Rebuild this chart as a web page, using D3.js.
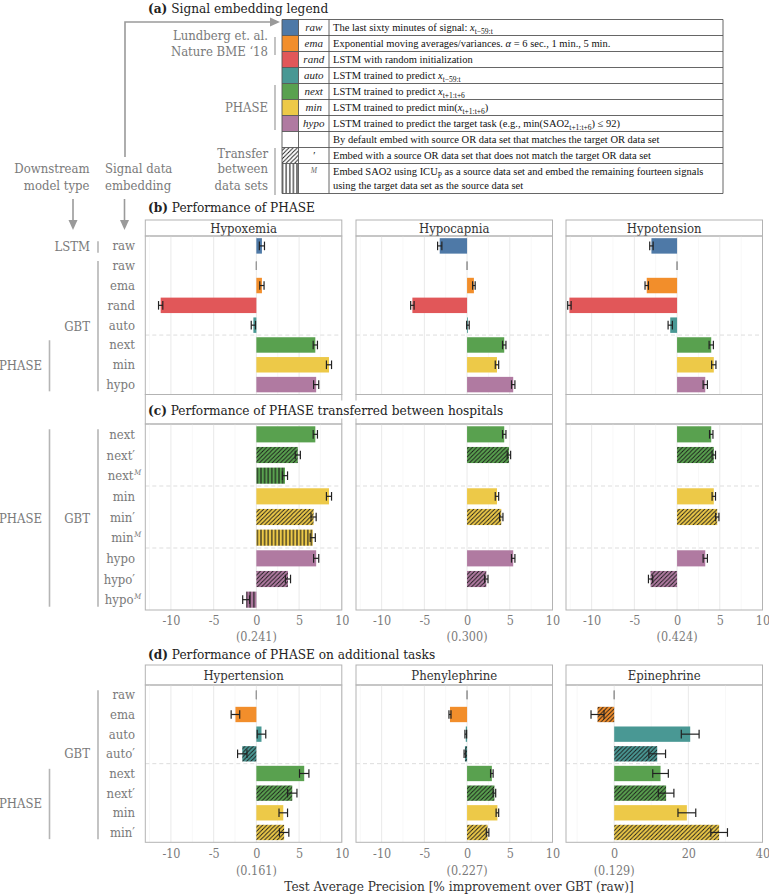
<!DOCTYPE html>
<html><head><meta charset="utf-8">
<script src="https://cdn.jsdelivr.net/npm/d3@7"></script>
<style>body{margin:0;background:#fff} svg{display:block}</style>
</head><body><svg id="c" width="769" height="894"></svg>
<script>
// ---------------- DATA ----------------
const embeddings = ["raw","ema","rand","auto","next","min","hypo"];
const embedColors = ["#4e79a7","#f28e2b","#e15759","#499894","#59a14f","#edc948","#b07aa1"];

// (b) Performance of PHASE
const bTasks = ["Hypoxemia","Hypocapnia","Hypotension"];
const bRowLabels = ["raw","raw","ema","rand","auto","next","min","hypo"];
const bRowEmbed  = ["raw","raw","ema","rand","auto","next","min","hypo"];
const bRowPattern = ["none","none","none","none","none","none","none","none"];
const bHypoxemia    = [0.65, 0, 0.65, -11.2, -0.35, 6.9, 8.5, 7.0];
const bHypoxemiaErr = [0.3, 0, 0.25, 0.25, 0.25, 0.25, 0.3, 0.3];
const bHypocapnia    = [-3.2, 0, 0.8, -6.4, 0.1, 4.35, 3.5, 5.4];
const bHypocapniaErr = [0.25, 0, 0.15, 0.2, 0.15, 0.2, 0.2, 0.2];
const bHypotension    = [-3.0, 0, -3.55, -12.6, -0.8, 4.0, 4.3, 3.3];
const bHypotensionErr = [0.2, 0, 0.2, 0.2, 0.25, 0.25, 0.25, 0.25];

// (c) Transferred between hospitals
const cTasks = ["","",""];
const cRowLabels = ["next","next′","next","min","min′","min","hypo","hypo′","hypo"];
const cRowSup    = ["","","M","","","M","","","M"];
const cRowEmbed  = ["next","next","next","min","min","min","hypo","hypo","hypo"];
const cRowPattern = ["none","diag","vert","none","diag","vert","none","diag","vert"];
const cHypoxemia    = [6.9, 4.85, 3.35, 8.5, 6.7, 6.6, 7.0, 3.7, -1.2];
const cHypoxemiaErr = [0.25, 0.3, 0.3, 0.3, 0.3, 0.3, 0.3, 0.3, 0.4];
const cHypocapnia    = [4.35, 4.9, null, 3.5, 4.0, null, 5.4, 2.25, null];
const cHypocapniaErr = [0.2, 0.2, null, 0.2, 0.2, null, 0.2, 0.2, null];
const cHypotension    = [4.0, 4.3, null, 4.3, 4.7, null, 3.3, -3.1, null];
const cHypotensionErr = [0.2, 0.2, null, 0.2, 0.2, null, 0.25, 0.25, null];
const cBaselines = ["(0.241)","(0.300)","(0.424)"];

// (d) Additional tasks
const dTasks = ["Hypertension","Phenylephrine","Epinephrine"];
const dRowLabels = ["raw","ema","auto","auto′","next","next′","min","min′"];
const dRowEmbed  = ["raw","ema","auto","auto","next","next","min","min"];
const dRowPattern = ["none","none","none","diag","none","diag","none","diag"];
const dRowPatternEpi = ["none","diag","none","diag","none","diag","none","diag"];
const dHypertension    = [0, -2.45, 0.6, -1.65, 5.6, 4.2, 3.15, 3.25];
const dHypertensionErr = [0, 0.5, 0.5, 0.55, 0.55, 0.55, 0.5, 0.55];
const dPhenylephrine    = [0, -2.0, -0.15, -0.25, 2.9, 3.2, 3.55, 2.4];
const dPhenylephrineErr = [0, 0.12, 0.1, 0.1, 0.15, 0.15, 0.15, 0.15];
const dEpinephrine    = [0, -4.5, 20.5, 11.6, 12.5, 14.0, 19.6, 28.3];
const dEpinephrineErr = [0, 1.75, 2.4, 2.25, 2.1, 2.1, 2.4, 2.25];
const dBaselines = ["(0.161)","(0.227)","(0.129)"];

const ticksSmall = [-10,-5,0,5,10];
const ticksEpi = [0,20,40];

// Legend
const legendCodes = ["raw","ema","rand","auto","next","min","hypo","","′","M"];
const legendDescriptions = [
  [["The last sixty minutes of signal: "],["x","i"],["t−59:t","sub"]],
  [["Exponential moving averages/variances.  "],["α","i"],[" = 6 sec., 1 min., 5 min."]],
  [["LSTM with random initialization"]],
  [["LSTM trained to predict "],["x","i"],["t−59:t","sub"]],
  [["LSTM trained to predict "],["x","i"],["t+1:t+6","sub"]],
  [["LSTM trained to predict min("],["x","i"],["t+1:t+6","sub"],[")"]],
  [["LSTM trained to predict the target task (e.g., min(SAO2"],["t+1:t+6","sub"],[") ≤ 92)"]],
  [["By default embed with source OR data set that matches the target OR data set"]],
  [["Embed with a source OR data set that does not match the target OR data set"]],
  [["Embed SAO2 using ICU"],["P","sub"],[" as a source data set and embed the remaining  fourteen signals"]],
];
const legendDescLine2 = "using the target data set as the source data set";

// ---------------- DRAW ----------------
const FONT = "'DejaVu Serif Condensed','DejaVu Serif',serif";
const LFONT = "'Liberation Serif','Times New Roman',serif";
const svg = d3.select("#c").attr("font-family", FONT);
const defs = svg.append("defs");
const color = d3.scaleOrdinal().domain(embeddings).range(embedColors);

// patterns
function patId(type, key){ return `p-${type}-${key}`; }
[...embeddings, "white"].forEach(k => {
  const fill = k === "white" ? "#fff" : color(k);
  const pd = defs.append("pattern").attr("id", patId("diag",k)).attr("patternUnits","userSpaceOnUse")
    .attr("width",4.2).attr("height",4.2);
  pd.append("rect").attr("width",4.2).attr("height",4.2).attr("fill",fill);
  pd.append("path").attr("d","M-1,1 L1,-1 M0,4.2 L4.2,0 M3.2,5.2 L5.2,3.2").attr("stroke","#1a1a1a").attr("stroke-width",0.9);
  const pv = defs.append("pattern").attr("id", patId("vert",k)).attr("patternUnits","userSpaceOnUse")
    .attr("width",3.6).attr("height",3.6);
  pv.append("rect").attr("width",3.6).attr("height",3.6).attr("fill",fill);
  pv.append("line").attr("x1",1.8).attr("x2",1.8).attr("y1",0).attr("y2",3.6).attr("stroke","#1a1a1a").attr("stroke-width",1.1);
});
function fillFor(key, pat){ return pat === "none" ? color(key) : `url(#${patId(pat,key)})`; }

// Titles
function sectionTitle(x, y, bold, rest){
  const t = svg.append("text").attr("x",x).attr("y",y).attr("font-size",13.5).attr("fill","#222");
  t.append("tspan").attr("font-weight","bold").text(bold);
  t.append("tspan").text(rest);
  return t;
}

const GRAY = "#7a7a7a";
const ARROW = "#9a9a9a";

// ---------- Legend (a) ----------
sectionTitle(148, 12.5, "(a)", " Signal embedding legend");
const tblX = [282, 298.5, 329, 723];
const rowTops = [19.5,35.5,51.5,67.5,83.5,99.5,115.5,131.5,147.5,163.5,193.5];
const lg = svg.append("g");
legendCodes.forEach((code,i) => {
  const y0 = rowTops[i], y1 = rowTops[i+1];
  let sw = "#fff";
  if (i < 7) sw = color(embeddings[i]);
  else if (i === 8) sw = `url(#${patId("diag","white")})`;
  else if (i === 9) sw = `url(#${patId("vert","white")})`;
  lg.append("rect").attr("x",tblX[0]).attr("y",y0).attr("width",tblX[1]-tblX[0]).attr("height",y1-y0).attr("fill",sw);
  const cy = (y0+y1)/2;
  if (i < 9) {
    lg.append("text").attr("x",(tblX[1]+tblX[2])/2).attr("y",cy+3.5).attr("text-anchor","middle")
      .attr("font-family",LFONT).attr("font-style","italic").attr("font-size",11).attr("fill","#222").text(code);
  } else {
    lg.append("text").attr("x",(tblX[1]+tblX[2])/2).attr("y",y0+9).attr("text-anchor","middle")
      .attr("font-family",LFONT).attr("font-style","italic").attr("font-size",7.5).attr("fill","#666").text(code);
  }
  const t = lg.append("text").attr("x",tblX[2]+4).attr("y", i===9 ? y0+11.5 : cy+3.5)
    .attr("font-family",LFONT).attr("font-size",10.5).attr("fill","#111");
  let shifted = false;
  legendDescriptions[i].forEach(([txt, st]) => {
    const ts = t.append("tspan").text(txt);
    if (st === "i") ts.attr("font-style","italic");
    if (st === "sub") { ts.attr("font-size",7.5).attr("dy",2.5); shifted = true; }
    else if (shifted) { ts.attr("dy",-2.5); shifted = false; }
  });
  if (i === 9) lg.append("text").attr("x",tblX[2]+4).attr("y",y0+25).attr("font-family",LFONT)
    .attr("font-size",10.5).attr("fill","#111").text(legendDescLine2);
});
// grid lines of table
rowTops.forEach(y => lg.append("line").attr("x1",tblX[0]).attr("x2",tblX[3]).attr("y1",y).attr("y2",y).attr("stroke","#555").attr("stroke-width",0.9));
tblX.forEach(x => lg.append("line").attr("x1",x).attr("x2",x).attr("y1",rowTops[0]).attr("y2",rowTops[10]).attr("stroke","#555").attr("stroke-width",0.9));

// legend group labels
function grayText(x, y, txt, anchor="end", size=13){
  return svg.append("text").attr("x",x).attr("y",y).attr("text-anchor",anchor).attr("font-size",size).attr("fill",GRAY).text(txt);
}
function bracket(x, y0, y1){
  svg.append("line").attr("x1",x).attr("x2",x).attr("y1",y0).attr("y2",y1).attr("stroke","#b5b5b5").attr("stroke-width",1.6);
}
grayText(268, 39.5, "Lundberg et. al.");
grayText(268, 56, "Nature BME ‘18");
bracket(275, 37, 55);
grayText(268, 112, "PHASE");
bracket(275, 85, 130);
grayText(268, 157.5, "Transfer");
grayText(268, 173, "between");
grayText(268, 189.5, "data sets");
bracket(275, 148, 195);

// arrows
svg.append("path").attr("d","M125,157 L125,22 L272,22").attr("fill","none").attr("stroke",ARROW).attr("stroke-width",1.6);
svg.append("path").attr("d","M270,17.5 L280,22 L270,26.5 Z").attr("fill",ARROW);
grayText(89.5, 172.5, "Downstream");
grayText(89.5, 189.5, "model type");
grayText(105, 172.5, "Signal data", "start");
grayText(105, 189.5, "embedding", "start");
[73, 124.5].forEach(x => {
  svg.append("line").attr("x1",x).attr("x2",x).attr("y1",199).attr("y2",222).attr("stroke",ARROW).attr("stroke-width",1.6);
  svg.append("path").attr("d",`M${x-4.5},220 L${x},230 L${x+4.5},220 Z`).attr("fill",ARROW);
});

// ---------- Panels ----------
const W = 196.5;
const panelX = [145.3, 356, 566];

function drawSection(sec){
  const n = sec.labels.length;
  const y = d3.scaleBand().domain(d3.range(n)).range([sec.plotTop, sec.plotBot]).paddingInner(0.22).paddingOuter(0.11);
  const step = y.step(), bw = y.bandwidth();
  // row labels
  sec.labels.forEach((lab,i) => {
    const hasSup = sec.sup && sec.sup[i];
    const t = svg.append("text").attr("x", hasSup ? 133.5 : 135).attr("y",y(i)+bw/2+4.5).attr("text-anchor","end")
      .attr("font-size",13).attr("fill",GRAY).text(lab);
    if (hasSup) svg.append("text").attr("x",134.3).attr("y",y(i)+bw/2-1).attr("font-size",7.5)
      .attr("font-style","italic").attr("fill",GRAY).text(sec.sup[i]);
  });
  // group labels
  sec.groups.forEach(gr => {
    const ya = y(gr.from) + 3, yb = y(gr.to) + bw - 1;
    bracket(gr.bx, ya, yb);
    const ly = gr.labelRow != null ? y(gr.labelRow)+bw/2 : (ya+yb)/2;
    grayText(gr.lx, ly+4.5, gr.name);
  });
  sec.panels.forEach((p, k) => {
    const px = panelX[k];
    const x = d3.scaleLinear().domain(p.domain).range([px, px+W]);
    const g = svg.append("g");
    // strip
    g.append("rect").attr("x",px).attr("y",sec.stripTop).attr("width",W).attr("height",sec.plotTop-sec.stripTop)
      .attr("fill","#fff").attr("stroke","#b3b3b3").attr("stroke-width",1);
    if (p.title) g.append("text").attr("x",px+W/2).attr("y",(sec.stripTop+sec.plotTop)/2+4.5).attr("text-anchor","middle")
      .attr("font-size",13).attr("fill","#333").text(p.title);
    // grid
    const major = p.ticks;
    const minor = d3.range(major.length-1).map(i => (major[i]+major[i+1])/2)
      .concat([major[0]-(major[1]-major[0])/2]).filter(v => v >= p.domain[0]);
    minor.forEach(v => g.append("line").attr("x1",x(v)).attr("x2",x(v)).attr("y1",sec.plotTop).attr("y2",sec.plotBot).attr("stroke","#f3f3f3").attr("stroke-width",0.7));
    major.forEach(v => g.append("line").attr("x1",x(v)).attr("x2",x(v)).attr("y1",sec.plotTop).attr("y2",sec.plotBot).attr("stroke","#e6e6e6").attr("stroke-width",0.9));
    // dashed separators
    sec.separators.forEach(r => {
      const sy = y(r) - (step-bw)/2;
      g.append("line").attr("x1",px).attr("x2",px+W).attr("y1",sy).attr("y2",sy).attr("stroke","#d9d9d9").attr("stroke-width",0.9).attr("stroke-dasharray","4,3");
    });
    // bars
    p.values.forEach((v,i) => {
      if (v == null || v === 0) return;
      g.append("rect").attr("x",x(Math.min(0,v))).attr("y",y(i)).attr("width",Math.abs(x(v)-x(0))).attr("height",bw)
        .attr("fill",fillFor(sec.embed[i], p.patterns[i]));
    });
    // error bars
    p.values.forEach((v,i) => {
      if (v == null) return;
      const e = p.errs[i], cy = y(i)+bw/2;
      const col = (v === 0) ? "#999" : "#222";
      const x1 = x(v-e), x2 = x(v+e);
      if (e > 0) g.append("line").attr("x1",x1).attr("x2",x2).attr("y1",cy).attr("y2",cy).attr("stroke",col).attr("stroke-width",1.2);
      [x1,x2].forEach(xx => g.append("line").attr("x1",xx).attr("x2",xx).attr("y1",cy-4.3).attr("y2",cy+4.3).attr("stroke",col).attr("stroke-width",1.2));
    });
    // border
    g.append("rect").attr("x",px).attr("y",sec.plotTop).attr("width",W).attr("height",sec.plotBot-sec.plotTop)
      .attr("fill","none").attr("stroke","#b3b3b3").attr("stroke-width",1);
    // axis
    if (sec.axisY != null) {
      const ax = g.append("g").attr("transform",`translate(0,${sec.plotBot})`)
        .call(d3.axisBottom(x).tickValues(major).tickSize(0).tickPadding(0).tickFormat(d => String(d)));
      ax.select(".domain").remove();
      ax.selectAll("text").attr("y", sec.axisY - sec.plotBot).attr("dy",0).attr("font-family",FONT)
        .attr("font-size",12.5).attr("fill",GRAY);
      g.append("text").attr("x",x(0)).attr("y",sec.axisY+16.5).attr("text-anchor","middle")
        .attr("font-size",12.5).attr("fill",GRAY).text(p.baseline);
    }
  });
}

sectionTitle(148, 212, "(b)", " Performance of PHASE");
drawSection({
  labels: bRowLabels, embed: bRowEmbed, stripTop: 220, plotTop: 236, plotBot: 394.5,
  separators: [5],
  groups: [
    {name:"LSTM", from:0, to:0, bx:98, lx:90},
    {name:"GBT", from:1, to:7, bx:98, lx:90},
    {name:"PHASE", from:5, to:7, bx:49.5, lx:42}
  ],
  panels: [
    {title:bTasks[0], domain:[-13,10], ticks:ticksSmall, values:bHypoxemia, errs:bHypoxemiaErr, patterns:bRowPattern},
    {title:bTasks[1], domain:[-13,10], ticks:ticksSmall, values:bHypocapnia, errs:bHypocapniaErr, patterns:bRowPattern},
    {title:bTasks[2], domain:[-13,10], ticks:ticksSmall, values:bHypotension, errs:bHypotensionErr, patterns:bRowPattern}
  ]
});

drawSection({
  labels: cRowLabels, sup: cRowSup, embed: cRowEmbed, stripTop: 394.5, plotTop: 424, plotBot: 610,
  separators: [3,6], axisY: 624.5,
  groups: [
    {name:"GBT", from:0, to:8, bx:98, lx:90},
    {name:"PHASE", from:0, to:8, bx:49.5, lx:42}
  ],
  panels: [
    {title:cTasks[0], domain:[-13,10], ticks:ticksSmall, values:cHypoxemia, errs:cHypoxemiaErr, patterns:cRowPattern, baseline:cBaselines[0]},
    {title:cTasks[1], domain:[-13,10], ticks:ticksSmall, values:cHypocapnia, errs:cHypocapniaErr, patterns:cRowPattern, baseline:cBaselines[1]},
    {title:cTasks[2], domain:[-13,10], ticks:ticksSmall, values:cHypotension, errs:cHypotensionErr, patterns:cRowPattern, baseline:cBaselines[2]}
  ]
});
// (c) title over its empty strip
{
  const t = sectionTitle(148, 414.5, "(c)", " Performance of PHASE transferred between hospitals");
  const bb = t.node().getBBox();
  svg.insert("rect", () => t.node()).attr("x",bb.x-1).attr("y",bb.y-1).attr("width",bb.width+4).attr("height",bb.height+2).attr("fill","#fff");
}

drawSection({
  labels: dRowLabels, embed: dRowEmbed, stripTop: 665, plotTop: 685, plotBot: 842.3,
  separators: [4], axisY: 858.5,
  groups: [
    {name:"GBT", from:0, to:7, bx:98, lx:90, labelRow:3},
    {name:"PHASE", from:4, to:7, bx:49.5, lx:42}
  ],
  panels: [
    {title:dTasks[0], domain:[-13,10], ticks:ticksSmall, values:dHypertension, errs:dHypertensionErr, patterns:dRowPattern, baseline:dBaselines[0]},
    {title:dTasks[1], domain:[-13,10], ticks:ticksSmall, values:dPhenylephrine, errs:dPhenylephrineErr, patterns:dRowPattern, baseline:dBaselines[1]},
    {title:dTasks[2], domain:[-13,40], ticks:ticksEpi, values:dEpinephrine, errs:dEpinephrineErr, patterns:dRowPatternEpi, baseline:dBaselines[2]}
  ]
});
sectionTitle(148, 659, "(d)", " Performance of PHASE on additional tasks");

svg.append("text").attr("x",459).attr("y",891).attr("text-anchor","middle").attr("font-size",13.5).attr("fill","#333")
  .text("Test Average Precision [% improvement over GBT (raw)]");
</script></body></html>
